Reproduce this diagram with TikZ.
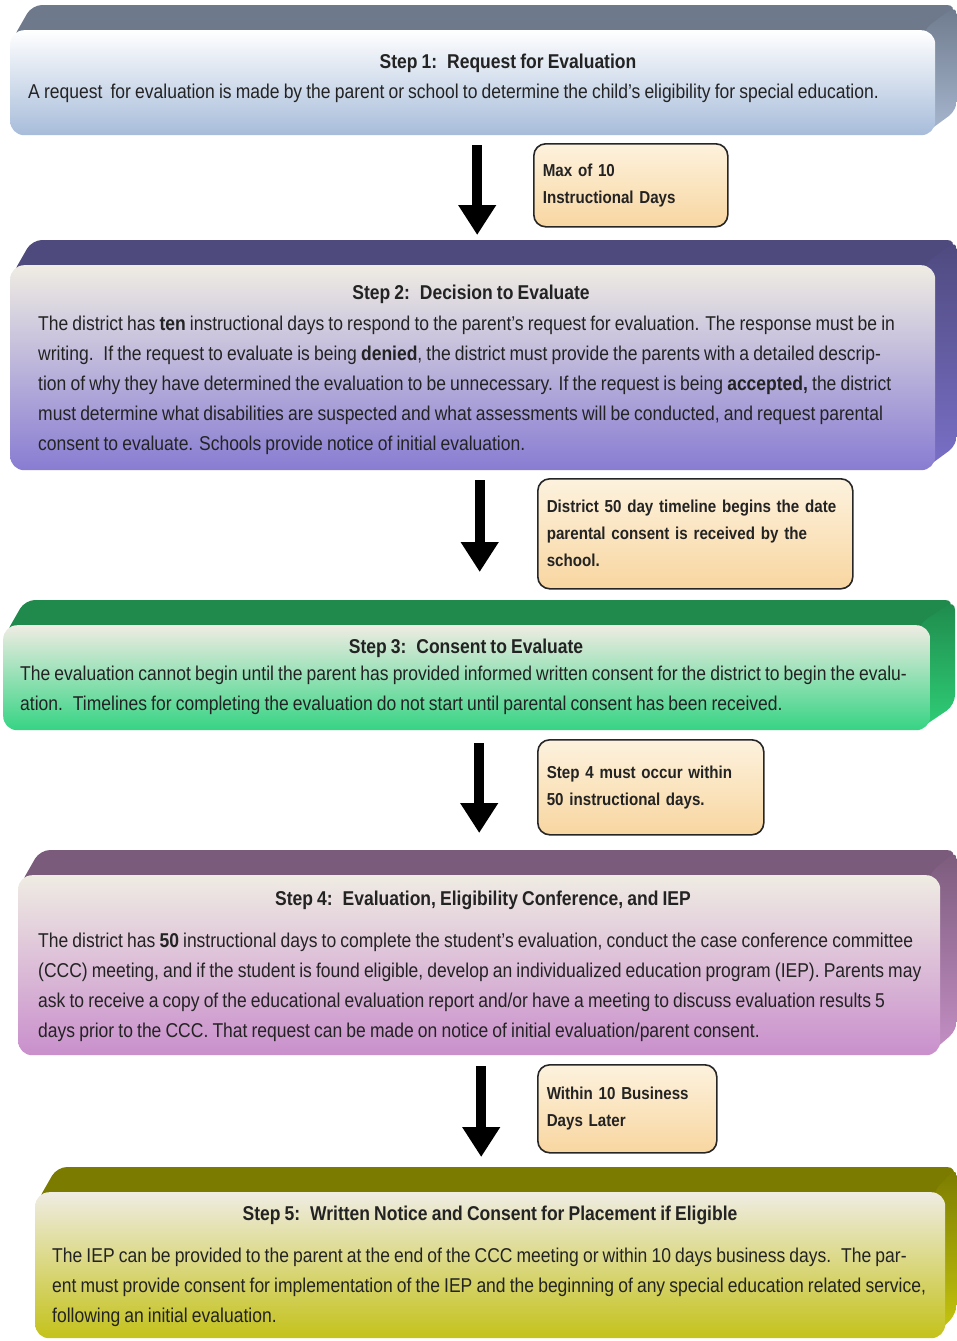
\documentclass[tikz,border=0pt]{standalone}
\usepackage{fontspec}
\setmainfont{Liberation Sans}[FakeStretch=0.875, WordSpace=0.85]
\usepackage{xcolor}
\usetikzlibrary{arrows.meta, positioning}
\definecolor{textgray}{RGB}{35,35,35}
\definecolor{topA}{RGB}{110,122,140}
\definecolor{sideA}{RGB}{168,184,208}
\definecolor{frontA}{RGB}{167,188,218}
\definecolor{topB}{RGB}{78,74,126}
\definecolor{sideB}{RGB}{122,112,200}
\definecolor{frontB}{RGB}{136,124,210}
\definecolor{topC}{RGB}{31,138,76}
\definecolor{sideC}{RGB}{47,207,120}
\definecolor{frontC}{RGB}{53,212,131}
\definecolor{topD}{RGB}{123,91,124}
\definecolor{sideD}{RGB}{197,144,197}
\definecolor{frontD}{RGB}{201,143,204}
\definecolor{topE}{RGB}{123,123,0}
\definecolor{sideE}{RGB}{200,200,16}
\definecolor{frontE}{RGB}{196,194,26}
\definecolor{cream}{RGB}{239,236,227}
\definecolor{notetop}{RGB}{253,242,222}
\definecolor{notebot}{RGB}{248,214,160}

\tikzset{
    steptitle/.style={font=\bfseries\fontsize{20}{22}\selectfont, text=textgray, inner sep=0pt},
    steptext/.style={font=\fontsize{20}{30}\selectfont, text=textgray, align=left, anchor=north west, inner sep=0pt},
    frontface/.style={rectangle, rounded corners=14pt, anchor=north west, inner sep=0pt},
    notebox/.style={rectangle, rounded corners=12pt, draw=black!85, line width=1.6pt, top color=notetop, bottom color=notebot,
        anchor=north west, align=left, inner xsep=9pt, font=\bfseries\fontsize{17.3}{27}\selectfont, text=textgray},
    downarrow/.style={line width=10pt, -{Triangle[width=36pt,length=30pt]}},
}

% back faces of a step: #1,#2 front top left, #3,#4 front bottom right, #5 back right, #6 top, #7 side
\newcommand{\stepslab}[7]{%
    \fill[#6, rounded corners=10pt] (#1+2,#2+10) -- (#1+22,#2-25) -- (#5,#2-25) -- (#3,#2+10) -- cycle;
    \shade[top color=#6, bottom color=#7, rounded corners=10pt] (#3-12,#2) -- (#5,#2-25) -- (#5,#4-25) -- (#3-12,#4) -- cycle;
}

\begin{document}
\begin{tikzpicture}[x=1pt, y=-1pt]
    \useasboundingbox (0,0) rectangle (957,1341);

    % Step 1
    \stepslab{10}{30}{935}{135}{957}{topA}{sideA}
    \node[frontface, top color=white, bottom color=frontA, minimum width=925pt, minimum height=105pt] (s1) at (10,30) {};
    \node[steptitle] (t1) at (508,63) {Step 1:~ Request for Evaluation};
    \node[steptext] (b1) at (28,84) {A request~ for evaluation is made by the parent or school to determine the child's eligibility for special education.};

    % Step 2
    \stepslab{10}{265}{935}{470}{957}{topB}{sideB}
    \node[frontface, top color=cream, middle color=cream!55!frontB, bottom color=frontB, minimum width=925pt, minimum height=205pt] (s2) at (10,265) {};
    \node[steptitle] (t2) at (471,294) {Step 2:~ Decision to Evaluate};
    \node[steptext] (b2) at (38,316) {The district has \textbf{ten} instructional days to respond to the parent's request for evaluation. The response must be in\\
        writing.~ If the request to evaluate is being \textbf{denied}, the district must provide the parents with a detailed descrip-\\
        tion of why they have determined the evaluation to be unnecessary. If the request is being \textbf{accepted,} the district\\
        must determine what disabilities are suspected and what assessments will be conducted, and request parental\\
        consent to evaluate. Schools provide notice of initial evaluation.};

    % Step 3
    \stepslab{3}{625}{930}{730}{955}{topC}{sideC}
    \node[frontface, top color=cream, middle color=cream!55!frontC, bottom color=frontC, minimum width=927pt, minimum height=105pt] (s3) at (3,625) {};
    \node[steptitle] (t3) at (466,648) {Step 3:~ Consent to Evaluate};
    \node[steptext] (b3) at (20,666) {The evaluation cannot begin until the parent has provided informed written consent for the district to begin the evalu-\\
        ation.~ Timelines for completing the evaluation do not start until parental consent has been received.};

    % Step 4
    \stepslab{18}{875}{940}{1055}{957}{topD}{sideD}
    \node[frontface, top color=cream, middle color=cream!55!frontD, bottom color=frontD, minimum width=922pt, minimum height=180pt] (s4) at (18,875) {};
    \node[steptitle] (t4) at (483,900) {Step 4:~ Evaluation, Eligibility Conference, and IEP};
    \node[steptext] (b4) at (38,933) {The district has \textbf{50} instructional days to complete the student's evaluation, conduct the case conference committee\\
        (CCC) meeting, and if the student is found eligible, develop an individualized education program (IEP). Parents may\\
        ask to receive a copy of the educational evaluation report and/or have a meeting to discuss evaluation results 5\\
        days prior to the CCC. That request can be made on notice of initial evaluation/parent consent.};

    % Step 5
    \stepslab{35}{1192}{945}{1338}{957}{topE}{sideE}
    \node[frontface, top color=cream, middle color=cream!55!frontE, bottom color=frontE, minimum width=910pt, minimum height=146pt] (s5) at (35,1192) {};
    \node[steptitle] (t5) at (490,1215) {Step 5:~ Written Notice and Consent for Placement if Eligible};
    \node[steptext] (b5) at (52,1248) {The IEP can be provided to the parent at the end of the CCC meeting or within 10 days business days.~ The par-\\
        ent must provide consent for implementation of the IEP and the beginning of any special education related service,\\
        following an initial evaluation.};

    % Timeline notes
    \node[notebox, text width=176pt, minimum height=83pt] (n1) at (533,143) {Max of 10\\Instructional Days};
    \node[notebox, text width=297pt, minimum height=110pt] (n2) at (537,478) {District 50 day timeline begins the date\\parental consent is received by the\\school.};
    \node[notebox, text width=208pt, minimum height=95pt] (n3) at (537,739) {Step 4 must occur within\\50 instructional days.};
    \node[notebox, text width=161pt, minimum height=88pt] (n4) at (537,1064) {Within 10 Business\\Days Later};

    % Arrows between steps
    \draw[downarrow] ([xshift=4.5pt,yshift=-10pt]s1.south) -- ([xshift=4.5pt,yshift=30pt]s2.north);
    \draw[downarrow] ([xshift=7pt,yshift=-10pt]s2.south) -- ([xshift=13pt,yshift=53pt]s3.north);
    \draw[downarrow] ([xshift=12.5pt,yshift=-13pt]s3.south) -- ([yshift=42pt]s4.north);
    \draw[downarrow] ([xshift=2pt,yshift=-11pt]s4.south) -- ([xshift=-9pt,yshift=35pt]s5.north);
\end{tikzpicture}
\end{document}
